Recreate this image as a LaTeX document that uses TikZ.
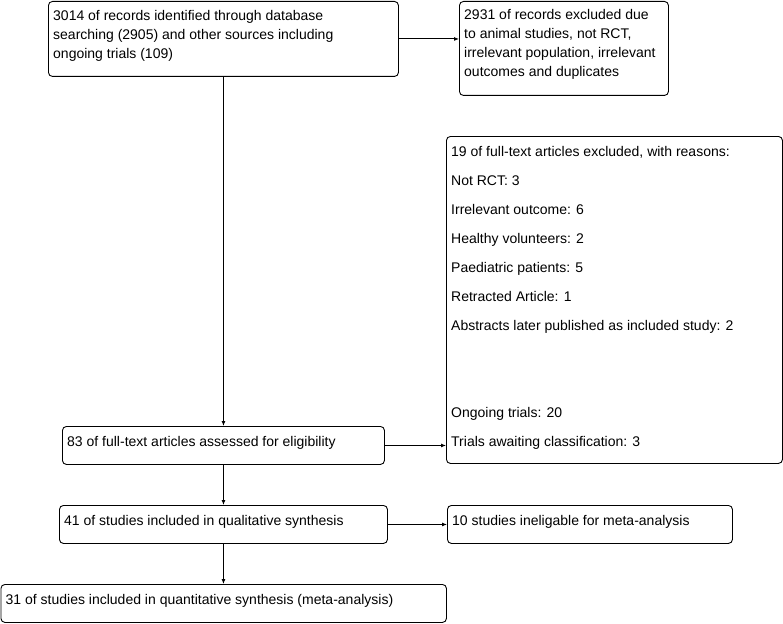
\documentclass[tikz,border=0pt]{standalone}
\usepackage{fontspec}
\setmainfont{Liberation Sans}
\usetikzlibrary{arrows.meta}
\begin{document}
\begin{tikzpicture}[x=1pt,y=-1pt,
  box/.style={draw, rounded corners=4pt, line width=0.9pt, inner sep=0pt, anchor=north west},
  txt/.style={inner sep=0pt, anchor=west, align=left, font=\fontsize{14}{19}\selectfont},
  conn/.style={line width=0.9pt, -{Latex[length=5pt,width=4pt]}}]
\useasboundingbox (0,0) rectangle (783,623);
% boxes
\node[box, minimum width=350, minimum height=75] (b1) at (48,1) {};
\node[box, minimum width=209, minimum height=94] (b2) at (459,1) {};
\node[box, minimum width=336, minimum height=327] (b6) at (446,136) {};
\node[box, minimum width=322, minimum height=38] (b3) at (62,426) {};
\node[box, minimum width=328, minimum height=38] (b4) at (59,505) {};
\node[box, minimum width=285, minimum height=38] (b7) at (447,505) {};
\node[box, minimum width=445.5, minimum height=38] (b5) at (0.5,584) {};
% texts
\node[txt] (t1) at ([xshift=5pt,yshift=3pt]b1.west) {3014 of records identified through database\\searching (2905) and other sources including\\ongoing trials (109)};
\node[txt] (t2) at ([xshift=5pt,yshift=4pt]b2.west) {2931 of records excluded due\\to animal studies, not RCT,\\irrelevant population, irrelevant\\outcomes and duplicates};
\node[txt, font=\fontsize{14}{29}\selectfont] (t6) at ([xshift=5pt,yshift=2pt]b6.west) {19 of full-text articles excluded, with reasons:\\Not RCT: 3\\Irrelevant outcome: 6\\Healthy volunteers: 2\\Paediatric patients: 5\\Retracted Article: 1\\Abstracts later published as included study: 2\\[58pt]Ongoing trials: 20\\Trials awaiting classification: 3};
\node[txt] (t3) at ([xshift=5pt,yshift=3pt]b3.west) {83 of full-text articles assessed for eligibility};
\node[txt] (t4) at ([xshift=5pt,yshift=3pt]b4.west) {41 of studies included in qualitative synthesis};
\node[txt] (t7) at ([xshift=5pt,yshift=3pt]b7.west) {10 studies ineligable for meta-analysis};
\node[txt] (t5) at ([xshift=5pt,yshift=3pt]b5.west) {31 of studies included in quantitative synthesis (meta-analysis)};
% connectors
\draw[conn] (b1.east) -- (b1.east -| b2.west);
\draw[conn] (b1.south) -- (b3.north);
\draw[conn] (b3.east) -- (b3.east -| b6.west);
\draw[conn] (b3.south) -- (b4.north);
\draw[conn] (b4.east) -- (b4.east -| b7.west);
\draw[conn] (b4.south) -- (b4.south |- b5.north);
\end{tikzpicture}
\end{document}
